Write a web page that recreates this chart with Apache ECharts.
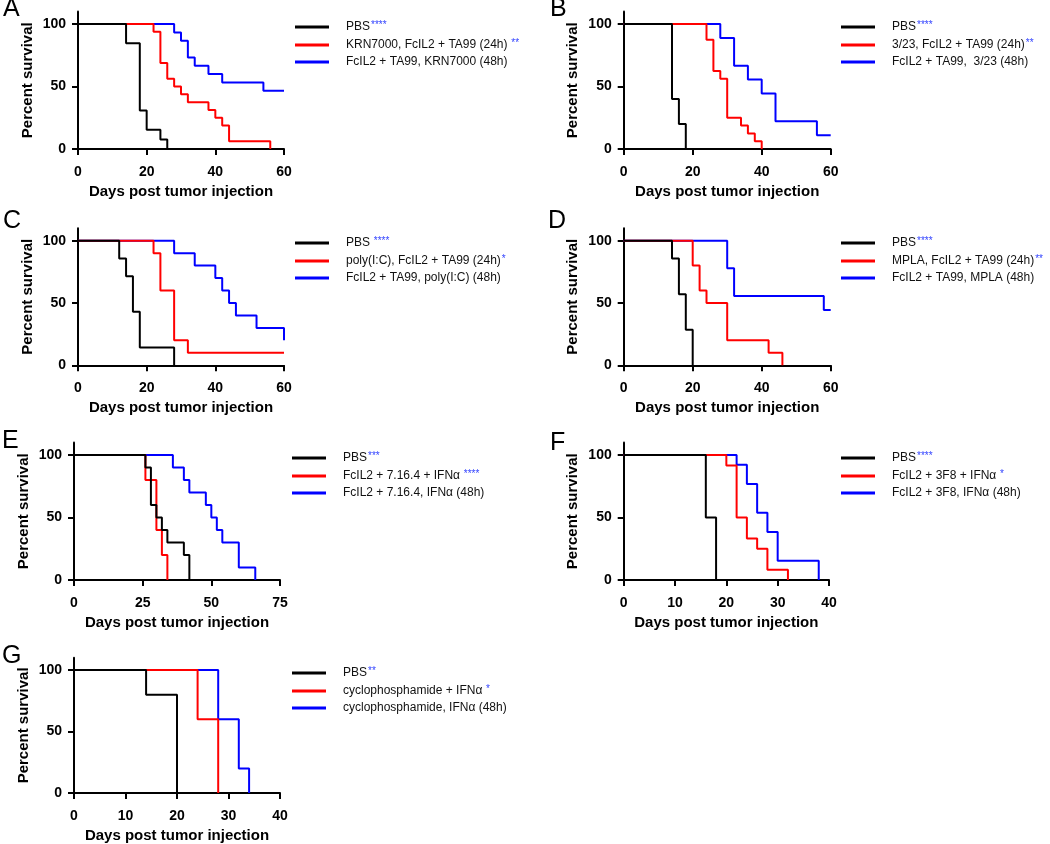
<!DOCTYPE html>
<html>
<head>
<meta charset="utf-8">
<script src="https://cdn.jsdelivr.net/npm/echarts@6/dist/echarts.min.js"></script>
<style>
  html, body { margin: 0; padding: 0; background: #fff; }
  #main { width: 1050px; height: 844px; }
</style>
</head>
<body>
<div id="main"></div>
<script>
// survival curves, [day, percent surviving]
var aPBS   = [[0,100],[14,84.6],[18,30.8],[20,15.4],[24,7.7],[26,0]];
var a24h   = [[0,100],[22,93.8],[24,68.8],[26,56.3],[28,50],[30,43.8],[32,37.5],[38,31.3],[40,25],[42,18.8],[44,6.3],[56,0]];
var a48h   = [[0,100],[28,93.3],[30,86.7],[32,73.3],[34,66.7],[38,60],[42,53.3],[54,46.7],[60,46.7]];

var bPBS   = [[0,100],[14,40],[16,20],[18,0]];
var b24h   = [[0,100],[24,87.5],[26,62.5],[28,56.3],[30,25],[34,18.8],[36,12.5],[38,6.3],[40,0]];
var b48h   = [[0,100],[28,88.9],[32,66.7],[36,55.6],[40,44.4],[44,22.2],[56,11.1],[60,11.1]];

var cPBS   = [[0,100],[12,85.7],[14,71.4],[16,42.9],[18,14.3],[28,0]];
var c24h   = [[0,100],[22,90],[24,60],[28,20],[32,10],[60,10]];
var c48h   = [[0,100],[28,90],[34,80],[40,70],[42,60],[44,50],[46,40],[52,30],[60,20]];

var dPBS   = [[0,100],[14,85.7],[16,57.1],[18,28.6],[20,0]];
var d24h   = [[0,100],[20,80],[22,60],[24,50],[30,20],[42,10],[46,0]];
var d48h   = [[0,100],[30,77.8],[32,55.6],[58,44.4],[60,44.4]];

var ePBS   = [[0,100],[26,90],[28,60],[30,50],[32,40],[34,30],[40,20],[42,0]];
var eCombo = [[0,100],[26,80],[30,40],[32,20],[34,0]];
var e48h   = [[0,100],[36,90],[40,80],[42,70],[48,60],[50,50],[52,40],[54,30],[60,10],[66,0]];

var fPBS   = [[0,100],[16,50],[18,0]];
var fCombo = [[0,100],[20,91.7],[22,50],[24,33.3],[26,25],[28,8.3],[32,0]];
var f48h   = [[0,100],[22,92.3],[24,76.9],[26,53.8],[28,38.5],[30,15.4],[38,0]];

var gPBS   = [[0,100],[14,80],[20,0]];
var gCombo = [[0,100],[24,60],[28,0]];
var g48h   = [[0,100],[28,60],[32,20],[34,0]];

// legend labels and significance stars
var aLabels = ['PBS', 'KRN7000, FcIL2 + TA99 (24h)', 'FcIL2 + TA99, KRN7000 (48h)'];
var aStars  = ['****', ' **', ''];
var bLabels = ['PBS', '3/23, FcIL2 + TA99 (24h)', 'FcIL2 + TA99,  3/23 (48h)'];
var bStars  = ['****', '**', ''];
var cLabels = ['PBS', 'poly(I:C), FcIL2 + TA99 (24h)', 'FcIL2 + TA99, poly(I:C) (48h)'];
var cStars  = [' ****', '*', ''];
var dLabels = ['PBS', 'MPLA, FcIL2 + TA99 (24h)', 'FcIL2 + TA99, MPLA (48h)'];
var dStars  = ['****', '**', ''];
var eLabels = ['PBS', 'FcIL2 + 7.16.4 + IFN\u03b1', 'FcIL2 + 7.16.4, IFN\u03b1 (48h)'];
var eStars  = ['***', ' ****', ''];
var fLabels = ['PBS', 'FcIL2 + 3F8 + IFN\u03b1', 'FcIL2 + 3F8, IFN\u03b1 (48h)'];
var fStars  = ['****', ' *', ''];
var gLabels = ['PBS', 'cyclophosphamide + IFN\u03b1', 'cyclophosphamide, IFN\u03b1 (48h)'];
var gStars  = ['**', ' *', ''];

var xMaxes     = [60, 60, 60, 60, 75, 40, 40];
var xIntervals = [20, 20, 20, 20, 25, 10, 10];
var yTicks     = [0, 50, 100];

var panels = [
  {id:'A', curves:[aPBS,a24h,a48h], labels:aLabels, stars:aStars, left:78, top:11.5, w:206, h:137.5, lx:295, ly:20, tx:3, ty:-3},
  {id:'B', curves:[bPBS,b24h,b48h], labels:bLabels, stars:bStars, left:623.7, top:11.5, w:207, h:137.5, lx:841, ly:20, tx:550, ty:-3},
  {id:'C', curves:[cPBS,c24h,c48h], labels:cLabels, stars:cStars, left:78, top:228.2, w:206, h:137.1, lx:295, ly:236, tx:3, ty:209},
  {id:'D', curves:[dPBS,d24h,d48h], labels:dLabels, stars:dStars, left:623.7, top:228.2, w:207, h:137.1, lx:841, ly:236, tx:548, ty:209},
  {id:'E', curves:[ePBS,eCombo,e48h], labels:eLabels, stars:eStars, left:74, top:442.5, w:206, h:137.5, lx:292, ly:451, tx:2, ty:429},
  {id:'F', curves:[fPBS,fCombo,f48h], labels:fLabels, stars:fStars, left:623.7, top:442.5, w:205.3, h:137.5, lx:841, ly:451, tx:550, ty:431},
  {id:'G', curves:[gPBS,gCombo,g48h], labels:gLabels, stars:gStars, left:74, top:657.8, w:206, h:137.5, lx:292, ly:666, tx:2, ty:644}
];

var colors = ['#000000', '#ff0000', '#0000ff'];
var font = 'Liberation Sans, Arial, sans-serif';
var labelMap = {};

var grids = [], xAxes = [], yAxes = [], series = [], legends = [], titles = [];

panels.forEach(function (p, i) {
  grids.push({left: p.left, top: p.top, width: p.w, height: p.h});
  titles.push({text: p.id, left: p.tx, top: p.ty, padding: 0,
    textStyle: {fontSize: 25, fontWeight: 'normal', color: '#000', fontFamily: font}});

  xAxes.push({
    type: 'value', gridIndex: i, min: 0, max: xMaxes[i], interval: xIntervals[i],
    name: 'Days post tumor injection', nameLocation: 'middle', nameGap: 35,
    nameTextStyle: {fontSize: 15, fontWeight: 'bold', color: '#000', fontFamily: font},
    axisLine: {show: true, onZero: false, lineStyle: {color: '#000', width: 2}},
    axisTick: {show: true, length: 6, lineStyle: {color: '#000', width: 2}},
    axisLabel: {fontSize: 14, fontWeight: 'bold', color: '#000', margin: 16, fontFamily: font},
    splitLine: {show: false}
  });
  yAxes.push({
    type: 'value', gridIndex: i, min: 0, max: 110, interval: 50,
    name: 'Percent survival', nameLocation: 'middle', nameGap: 43,
    nameTextStyle: {fontSize: 15, fontWeight: 'bold', color: '#000', fontFamily: font},
    axisLine: {show: true, onZero: false, lineStyle: {color: '#000', width: 2}},
    axisTick: {show: true, length: 6, customValues: yTicks, lineStyle: {color: '#000', width: 2}},
    axisLabel: {fontSize: 14, fontWeight: 'bold', color: '#000', margin: 12, customValues: yTicks, fontFamily: font},
    splitLine: {show: false}
  });

  var names = [];
  p.curves.forEach(function (c, k) {
    var nm = p.id + k;
    names.push(nm);
    labelMap[nm] = {text: p.labels[k], stars: p.stars[k]};
  });
  // blue first, black last so black sits on top
  for (var k = 2; k >= 0; k--) {
    series.push({
      name: names[k], type: 'line', xAxisIndex: i, yAxisIndex: i,
      step: 'end', symbol: 'none', data: p.curves[k],
      lineStyle: {color: colors[k], width: 2}, itemStyle: {color: colors[k]},
      animation: false
    });
  }

  legends.push({
    data: names, orient: 'vertical', left: p.lx, top: p.ly, padding: 0,
    itemWidth: 34, itemHeight: 3, itemGap: 5, icon: 'rect', selectedMode: false,
    formatter: function (name) {
      var l = labelMap[name];
      return '{n|' + l.text + '}' + (l.stars ? '{s|' + l.stars + '}' : '');
    },
    textStyle: {
      fontFamily: font,
      rich: {
        n: {fontSize: 12, color: '#111', lineHeight: 14, padding: [0, 0, 0, 12], fontFamily: font},
        s: {fontSize: 10, color: '#3344ff', lineHeight: 8, verticalAlign: 'top', padding: [0, 0, 0, 1], fontFamily: font}
      }
    }
  });
});

var chart = echarts.init(document.getElementById('main'));
chart.setOption({
  backgroundColor: '#fff',
  animation: false,
  title: titles,
  grid: grids,
  xAxis: xAxes,
  yAxis: yAxes,
  legend: legends,
  series: series
});
</script>
</body>
</html>
